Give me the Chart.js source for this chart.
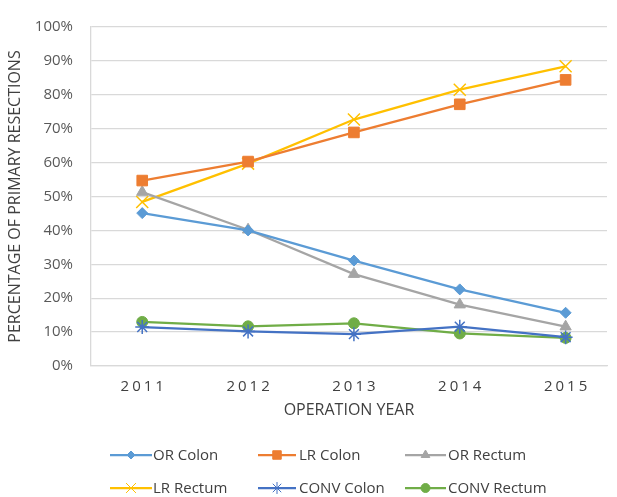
<!DOCTYPE html>
<html><head><meta charset="utf-8">
<script src="https://cdn.jsdelivr.net/npm/chart.js@4.4.0/dist/chart.umd.min.js"></script>
<style>html,body{margin:0;padding:0;background:#fff;overflow:hidden}#wrap{position:relative;width:617px;height:497px}canvas{display:block}</style>
</head><body><div id="wrap"><canvas id="c" width="617" height="497"></canvas></div>
<script>
// ---- data ----
const years = [2011, 2012, 2013, 2014, 2015];
const seriesNames = ['OR Colon', 'LR Colon', 'OR Rectum', 'LR Rectum', 'CONV Colon', 'CONV Rectum'];
const orColon    = [45.1, 40.0, 31.1, 22.6, 15.7];
const lrColon    = [54.7, 60.3, 68.9, 77.2, 84.4];
const orRectum   = [51.3, 40.2, 27.1, 18.1, 11.6];
const lrRectum   = [48.4, 59.7, 72.7, 81.5, 88.4];
const convColon  = [11.5, 10.2,  9.4, 11.6,  8.5];
const convRectum = [13.0, 11.7, 12.6,  9.6,  8.3];
const yTickValues = [0, 10, 20, 30, 40, 50, 60, 70, 80, 90, 100];
const xTitle = 'OPERATION YEAR';
const yTitle = 'PERCENTAGE OF PRIMARY RESECTIONS';

// ---- styles ----
const FONT = '"Open Sans", "Noto Sans", sans-serif';
const styles = [
  {color: '#5B9BD5', pointStyle: 'rectRot', radius: 5.5, lRadius: 4},
  {color: '#ED7D31', pointStyle: 'rect', radius: 7.5, lRadius: 6},
  {color: '#A5A5A5', pointStyle: 'triangle', radius: 6.5, lRadius: 5},
  {color: '#FFC000', pointStyle: 'crossRot', radius: 8.5, lRadius: 7},
  {color: '#4472C4', pointStyle: 'star', radius: 7, lRadius: 6},
  {color: '#70AD47', pointStyle: 'circle', radius: 5.5, lRadius: 4.5}
];
const values = [orColon, lrColon, orRectum, lrRectum, convColon, convRectum];

const datasets = seriesNames.map((name, i) => ({
  label: name,
  data: years.map((y, j) => ({x: y, y: values[i][j]})),
  borderColor: styles[i].color,
  backgroundColor: styles[i].color,
  borderWidth: 2.25,
  pointStyle: styles[i].pointStyle,
  pointRadius: styles[i].radius,
  pointBorderWidth: (styles[i].pointStyle === 'crossRot' || styles[i].pointStyle === 'star') ? 1.5 : 1,
  pointBackgroundColor: styles[i].color,
  pointBorderColor: styles[i].color,
  tension: 0,
  fill: false
}));

// legend layout
const legendCols = [{l: 110, r: 152, t: 153}, {l: 258, r: 296, t: 299}, {l: 405, r: 446, t: 448}];
const legendRows = [455, 488];

const legendPlugin = {
  id: 'gridLegend',
  afterDraw(chart) {
    const ctx = chart.ctx;
    chart.data.datasets.forEach((ds, i) => {
      const c = legendCols[i % 3];
      const y = legendRows[Math.floor(i / 3)];
      ctx.save();
      ctx.strokeStyle = ds.borderColor;
      ctx.lineWidth = 2.25;
      ctx.beginPath();
      ctx.moveTo(c.l, y);
      ctx.lineTo(c.r, y);
      ctx.stroke();
      ctx.fillStyle = ds.borderColor;
      ctx.strokeStyle = ds.borderColor;
      ctx.lineWidth = 1;
      Chart.helpers.drawPoint(ctx, {pointStyle: ds.pointStyle, rotation: 0, radius: styles[i].lRadius, borderWidth: 1}, (c.l + c.r) / 2, y);
      ctx.fillStyle = '#404040';
      ctx.font = '15px ' + FONT;
      ctx.textBaseline = 'middle';
      ctx.textAlign = 'left';
      ctx.fillText(ds.label, c.t, y + 1);
      ctx.restore();
    });
  }
};

const spacingPlugin = {
  id: 'xSpacing',
  beforeDraw(chart) {
    const s = chart.scales.x;
    if (s && !s._spWrapped) {
      const orig = s.drawLabels;
      s.drawLabels = function (a) {
        const ctx = this.ctx;
        const prev = ctx.letterSpacing;
        try { ctx.letterSpacing = '3px'; } catch (e) {}
        orig.call(this, a);
        try { ctx.letterSpacing = prev || '0px'; } catch (e) {}
      };
      s._spWrapped = true;
    }
  }
};

function draw() {
  new Chart(document.getElementById('c'), {
    type: 'line',
    data: {datasets},
    plugins: [spacingPlugin, legendPlugin],
    options: {
      responsive: false,
      devicePixelRatio: 1,
      animation: false,
      layout: {padding: {left: 0, right: 2, top: 20, bottom: 67}},
      plugins: {legend: {display: false}, tooltip: {enabled: false}},
      scales: {
        x: {
          type: 'linear',
          min: 2010.516,
          max: 2015.391,
          afterBuildTicks: (axis) => { axis.ticks = years.map(v => ({value: v})); },
          afterFit: (scale) => { scale.height = 64; },
          grid: {display: false, drawTicks: false},
          border: {display: true, color: '#D9D9D9', width: 1.3},
          ticks: {
            padding: 12,
            labelOffset: 1.5,
            color: '#404040',
            font: {family: FONT, size: 15},
            callback: (v) => String(v)
          },
          title: {display: true, text: xTitle, color: '#404040', font: {family: FONT, size: 16}, padding: {top: 0, bottom: 10}}
        },
        y: {
          min: 0,
          max: 100,
          afterBuildTicks: (axis) => { axis.ticks = yTickValues.map(v => ({value: v})); },
          afterFit: (scale) => { scale.width = 91; },
          grid: {color: '#D9D9D9', lineWidth: 1.3, drawTicks: false},
          border: {display: true, color: '#D9D9D9', width: 1.3},
          ticks: {
            padding: 18,
            color: '#595959',
            font: {family: FONT, size: 15},
            callback: (v) => v + '%'
          },
          title: {display: true, text: yTitle, color: '#404040', font: {family: FONT, size: 16}, padding: {top: 6, bottom: 0}}
        }
      }
    }
  });
}
if (document.fonts && document.fonts.load) {
  document.fonts.load('15px "Open Sans"').then(draw, draw);
} else { draw(); }
</script>
</body></html>
